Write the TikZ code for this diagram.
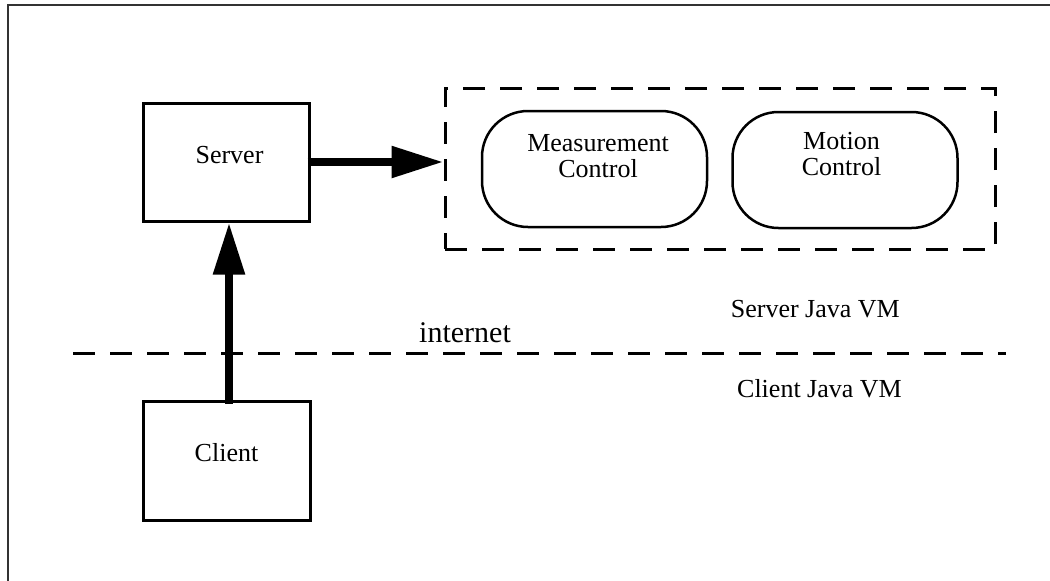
\documentclass[tikz,border=0pt]{standalone}
\usepackage{fontspec}
\setmainfont{Liberation Serif}
\usetikzlibrary{arrows.meta}
\begin{document}
\begin{tikzpicture}[x=1pt,y=-1pt,
  txt/.style={font=\fontsize{26}{26}\selectfont, inner sep=0pt, align=center},
  bigtxt/.style={font=\fontsize{30}{30}\selectfont, inner sep=0pt},
  sqbox/.style={draw, line width=3pt, inner sep=0pt},
  rbox/.style={draw, line width=2.5pt, inner sep=0pt, rounded corners=46pt, minimum width=225pt, minimum height=116pt},
  grp/.style={draw, line width=3pt, dash pattern=on 22pt off 15pt, inner sep=0pt},
  bigarrow/.style={line width=8.5pt, -{Triangle[width=30pt,length=52pt]}},
  sep/.style={line width=3pt, dash pattern=on 22pt off 15pt},
  frame/.style={line width=2pt, draw=black!80}
]
\useasboundingbox (0,0) rectangle (1050,581);
% frame
\coordinate (ftr) at (1050,5);
\coordinate (ftl) at (8,5);
\coordinate (fbl) at (8,581);
\draw[frame] (ftr) -- (ftl) -- (fbl);
% boxes
\node[sqbox, minimum width=166pt, minimum height=118pt] (server) at (226,162) {};
\node[sqbox, minimum width=167pt, minimum height=119pt] (client) at (226.5,460.5) {};
\node[grp, minimum width=550pt, minimum height=161pt] (group) at (720,168.5) {};
\node[rbox] (meas) at (594.5,169) {};
\node[rbox] (motion) at (845,170) {};
% texts
\node[txt, anchor=base] (servert) at (229.5,163) {Server};
\node[txt, anchor=base] (clientt) at (226.5,461) {Client};
\node[txt] (meast) at (598,156.5) {Measurement\\Control};
\node[txt] (motiont) at (841.5,154) {Motion\\Control};
\node[bigtxt, anchor=base west] (inet) at (419,342) {internet};
\node[txt, anchor=base east] (svm) at (900,317) {Server Java VM};
\node[txt, anchor=base east] (cvm) at (902,397) {Client Java VM};
% separator
\coordinate (sepl) at (73,353);
\coordinate (sepr) at (1006,353);
\draw[sep] (sepl) -- (sepr);
% arrows
\coordinate (ax) at (229,0);
\draw[bigarrow] ([xshift=-3pt]server.east) -- (server.east -| group.west);
\draw[bigarrow] ([yshift=-4pt]client.north -| ax) -- (server.south -| ax);
\end{tikzpicture}
\end{document}
